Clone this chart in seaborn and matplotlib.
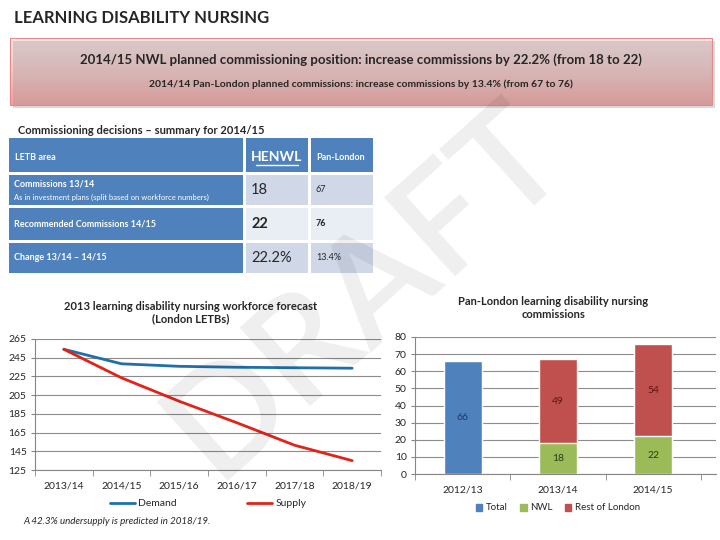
import numpy as np
import pandas as pd
import matplotlib
matplotlib.use("Agg")
import matplotlib.pyplot as plt
import seaborn as sns
from matplotlib.patches import Rectangle, Patch
from matplotlib.colors import LinearSegmentedColormap

# ---- data ----
forecast_years = ["2013/14", "2014/15", "2015/16", "2016/17", "2017/18", "2018/19"]
demand = [254, 238.5, 235.8, 234.8, 234.3, 233.8]
supply = [254, 223.5, 198.5, 175.5, 151.5, 135]

periods = ["2012/13", "2013/14", "2014/15"]
total_commissions = [66, np.nan, np.nan]
nwl_commissions = [np.nan, 18, 22]
rest_of_london = [np.nan, 49, 54]

table_rows = ["Commissions 13/14", "Recommended Commissions 14/15", "Change 13/14 \u2013 14/15"]
table_subtext = ["As in investment plans (split based on workforce numbers)", "", ""]
henwl_values = ["18", "22", "22.2%"]
pan_london_values = ["67", "76", "13.4%"]

W, H = 720, 540
BLUE = "#4F81BD"
GREEN = "#9BBB59"
RED = "#C0504D"


def rect(x0, y0, x1, y1):
    return [x0 / W, 1 - y1 / H, (x1 - x0) / W, (y1 - y0) / H]


sns.set_style("white")
plt.rcParams["font.family"] = ["Lato", "DejaVu Sans"]

fig = plt.figure(figsize=(7.2, 5.4), dpi=100)

# background layer: heading, pink banner, table
bg = fig.add_axes([0, 0, 1, 1])
bg.axis("off")

bg.text(14, 18, "LEARNING DISABILITY NURSING", fontsize=12, fontweight="bold", va="center", ha="left")

# banner with shadow + gradient
bg.add_patch(Rectangle((13, 41), 702, 67, facecolor="#999999", alpha=0.35, edgecolor="none"))
grad = np.linspace(0, 1, 100).reshape(-1, 1)
pink = LinearSegmentedColormap.from_list("pink", ["#FDE4E4", "#FAC6C6", "#F69C9C"])
bg.imshow(grad, extent=(10, 712, 105, 38), origin="upper", cmap=pink, aspect="auto")
bg.add_patch(Rectangle((10, 38), 702, 67, facecolor="none", edgecolor="#E08A8A", lw=0.8))
bg.text(361, 60, "2014/15 NWL planned commissioning position: increase commissions by 22.2% (from 18 to 22)",
        fontsize=9.5, fontweight="bold", ha="center", va="center")
bg.text(361, 84, "2014/14 Pan-London planned commissions: increase commissions by 13.4% (from 67 to 76)",
        fontsize=7.5, fontweight="bold", ha="center", va="center")

# table
bg.text(18, 131, "Commissioning decisions \u2013 summary for 2014/15", fontsize=8, fontweight="bold", va="center")
cols = [(9, 243), (246, 308), (311, 373)]
row_y = [(175, 205), (208, 240), (243, 273)]
cell_fill = ["#D0D8E8", "#E9EDF4", "#D0D8E8"]
for x0, x1 in cols:
    bg.add_patch(Rectangle((x0, 138), x1 - x0, 34, facecolor=BLUE, edgecolor="none"))
bg.text(15, 157, "LETB area", color="white", fontsize=6.5, fontweight="bold", va="center")
bg.text(277, 157, "HENWL", color="white", fontsize=10, fontweight="bold", va="center", ha="center")
bg.plot([256, 298], [165, 165], color="white", lw=1)
bg.text(341, 157, "Pan-London", color="white", fontsize=6.5, fontweight="bold", va="center", ha="center")

for i, (y0, y1) in enumerate(row_y):
    bg.add_patch(Rectangle((cols[0][0], y0), cols[0][1] - cols[0][0], y1 - y0, facecolor=BLUE, edgecolor="none"))
    for x0, x1 in cols[1:]:
        bg.add_patch(Rectangle((x0, y0), x1 - x0, y1 - y0, facecolor=cell_fill[i], edgecolor="none"))
    ym = (y0 + y1) / 2
    weight = "bold" if i == 1 else "normal"
    if table_subtext[i]:
        bg.text(14, ym - 6, table_rows[i], color="white", fontsize=6.5, fontweight="bold", va="center")
        bg.text(14, ym + 7, table_subtext[i], color="white", fontsize=5.5, va="center")
    else:
        bg.text(14, ym, table_rows[i], color="white", fontsize=6.5, fontweight="bold", va="center")
    bg.text(251, ym, henwl_values[i], fontsize=10.5, fontweight=weight, va="center")
    bg.text(316, ym, pan_london_values[i], fontsize=6.5, fontweight=weight, va="center")

bg.set_xlim(0, W)
bg.set_ylim(H, 0)

# ---- line chart ----
ax1 = fig.add_axes(rect(35, 339, 381, 470))
ax1.patch.set_alpha(0)
lines = pd.DataFrame({
    "pos": list(range(len(forecast_years))) * 2,
    "value": demand + supply,
    "series": ["Demand"] * len(demand) + ["Supply"] * len(supply),
})
sns.lineplot(data=lines, x="pos", y="value", hue="series",
             palette={"Demand": "#1F6FAA", "Supply": "#E2231A"}, linewidth=2, ax=ax1)
ax1.set_ylim(125, 265)
ax1.set_yticks(range(125, 266, 20))
ax1.set_xlim(-0.5, len(forecast_years) - 0.5)
ax1.set_xticks(range(len(forecast_years)), forecast_years)
ax1.set_xticks(np.arange(-0.5, len(forecast_years)), minor=True)
ax1.tick_params(axis="x", which="major", length=0, labelsize=7.5, pad=8)
ax1.tick_params(axis="x", which="minor", length=4, color="#868686", direction="out", bottom=True)
ax1.tick_params(axis="y", length=3, color="#868686", direction="out", left=True, labelsize=7.5, pad=3)
ax1.grid(axis="y", color="#8C8C8C", lw=0.8)
for s in ["top", "right"]:
    ax1.spines[s].set_visible(False)
for s in ["left", "bottom"]:
    ax1.spines[s].set_color("#868686")
ax1.set_xlabel("")
ax1.set_ylabel("")
ax1.legend(loc="upper center", bbox_to_anchor=(0.50, -0.15), ncol=2, frameon=False,
           fontsize=7.5, handlelength=2.4, columnspacing=6.8, handletextpad=0.3)
ax1.set_title("2013 learning disability nursing workforce forecast\n(London LETBs)",
              fontsize=8, fontweight="bold", pad=12, x=0.45)
fig.text(23 / W, 1 - 522 / H, "A 42.3% undersupply is predicted in 2018/19.", fontsize=7, style="italic", va="center")

# ---- stacked bar chart ----
ax2 = fig.add_axes(rect(415, 337, 716, 474))
ax2.patch.set_alpha(0)
tops = [t if not np.isnan(t) else n + r for t, n, r in zip(total_commissions, nwl_commissions, rest_of_london)]
sns.barplot(x=periods, y=tops, hue=periods, palette=[BLUE, RED, RED], order=periods,
            width=0.4, saturation=1, legend=False, ax=ax2)
sns.barplot(x=periods, y=nwl_commissions, color=GREEN, order=periods, width=0.4, saturation=1, ax=ax2)
for i in range(len(periods)):
    if not np.isnan(total_commissions[i]):
        ax2.text(i, total_commissions[i] / 2, f"{total_commissions[i]:.0f}", ha="center", va="center",
                 fontsize=7.5, color="#1F3864")
    if not np.isnan(nwl_commissions[i]):
        ax2.text(i, nwl_commissions[i] / 2, f"{nwl_commissions[i]:.0f}", ha="center", va="center",
                 fontsize=7.5, color="#2E3D12")
        ax2.text(i, nwl_commissions[i] + rest_of_london[i] / 2, f"{rest_of_london[i]:.0f}", ha="center",
                 va="center", fontsize=7.5, color="#5C1614")
ax2.set_ylim(0, 80)
ax2.set_yticks(range(0, 81, 10))
ax2.set_xlim(-0.5, 2.66)
ax2.set_xticks(np.arange(-0.5, len(periods)), minor=True)
ax2.tick_params(axis="x", which="major", length=0, labelsize=7.5, pad=8)
ax2.tick_params(axis="x", which="minor", length=4, color="#868686", direction="out", bottom=True)
ax2.tick_params(axis="y", length=3, color="#868686", direction="out", left=True, labelsize=7.5, pad=3)
ax2.grid(axis="y", color="#8C8C8C", lw=0.8)
ax2.set_axisbelow(True)
for s in ["top", "right"]:
    ax2.spines[s].set_visible(False)
for s in ["left", "bottom"]:
    ax2.spines[s].set_color("#868686")
ax2.set_title("Pan-London learning disability nursing\ncommissions", fontsize=8, fontweight="bold", pad=14, x=0.46)
handles = [Patch(color=BLUE, label="Total"), Patch(color=GREEN, label="NWL"), Patch(color=RED, label="Rest of London")]
fig.legend(handles=handles, loc="center", bbox_to_anchor=(558 / W, 1 - 508 / H), ncol=3, frameon=False,
           fontsize=7, handlelength=0.7, handleheight=0.7, handletextpad=0.4, columnspacing=1.2)

# watermark on top
wm = fig.add_axes([0, 0, 1, 1], zorder=10)
wm.axis("off")
wm.patch.set_alpha(0)
wm.text(365 / W, 1 - 290 / H, "DRAFT", fontsize=106, fontweight="semibold", rotation=42, color="black", alpha=0.065,
        ha="center", va="center", transform=wm.transAxes)

fig.savefig("out.png", dpi=100)
